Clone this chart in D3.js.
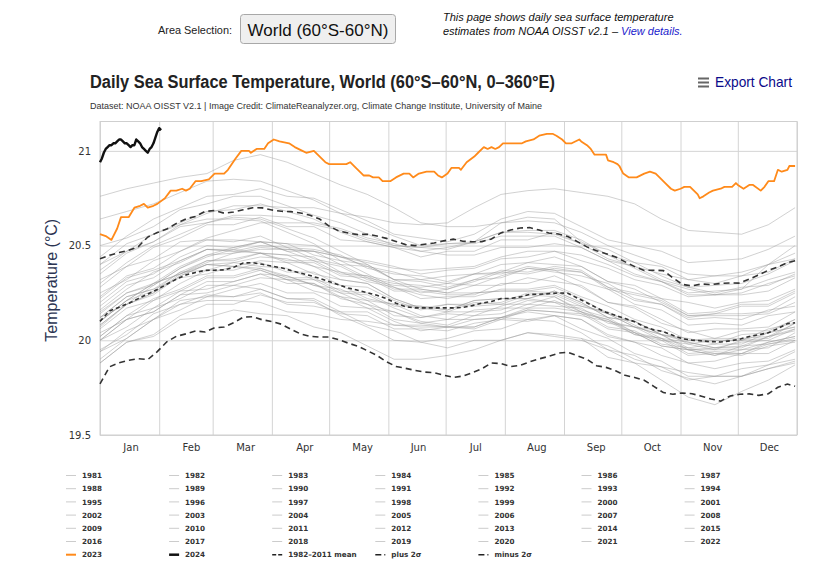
<!DOCTYPE html>
<html>
<head>
<meta charset="utf-8">
<script src="https://cdn.jsdelivr.net/npm/d3@7"></script>
<style>
  body { margin: 0; background: #fff; }
  svg text { font-family: "DejaVu Sans", sans-serif; }
</style>
</head>
<body>
<svg id="chart" width="825" height="567"></svg>
<script>
// ---- data ----

// day-of-year sample points used for the grey year lines (every 14 days)
const sampleDays = [0,14,28,42,56,70,84,98,112,126,140,154,168,182,196,210,224,238,252,266,280,294,308,322,336,350,364];

// grey year lines, one value per sample day (1981 record starts in September)
const y1981 = [null,null,null,null,null,null,null,null,null,null,null,null,null,null,null,null,null,null,20.01,19.91,19.88,19.79,19.70,19.66,19.73,19.79,19.87];
const y1982 = [19.90,20.01,20.11,20.19,20.21,20.21,20.20,20.15,20.14,20.11,20.10,20.08,20.07,20.07,20.07,20.12,20.16,20.15,20.13,20.10,20.07,20.03,20.00,20.01,20.01,20.02,20.09];
const y1983 = [20.15,20.25,20.30,20.35,20.40,20.39,20.38,20.34,20.29,20.25,20.19,20.15,20.09,20.11,20.11,20.12,20.15,20.13,20.11,20.03,19.99,19.92,19.88,19.85,19.88,19.89,19.95];
const y1984 = [19.95,20.03,20.14,20.19,20.24,20.23,20.25,20.19,20.18,20.15,20.08,20.05,19.99,20.01,20.05,20.06,20.11,20.10,20.04,19.95,19.92,19.84,19.80,19.77,19.81,19.85,19.89];
const y1985 = [19.88,19.99,20.02,20.11,20.12,20.16,20.14,20.13,20.07,20.04,19.97,19.90,19.90,19.92,19.95,20.00,20.04,20.03,20.01,19.97,19.90,19.86,19.83,19.81,19.85,19.87,19.94];
const y1986 = [19.94,20.05,20.11,20.21,20.23,20.23,20.27,20.22,20.22,20.15,20.15,20.08,20.08,20.07,20.11,20.12,20.17,20.17,20.15,20.10,20.03,20.01,19.95,19.96,19.97,20.02,20.06];
const y1987 = [20.10,20.21,20.26,20.36,20.42,20.43,20.46,20.42,20.42,20.35,20.34,20.27,20.27,20.25,20.29,20.29,20.33,20.31,20.29,20.20,20.17,20.09,20.05,20.01,20.05,20.05,20.11];
const y1988 = [20.12,20.23,20.27,20.33,20.35,20.39,20.37,20.32,20.30,20.22,20.19,20.11,20.09,20.07,20.07,20.12,20.11,20.13,20.06,20.01,19.93,19.89,19.81,19.81,19.81,19.85,19.88];
const y1989 = [19.88,19.99,20.03,20.13,20.19,20.19,20.24,20.20,20.20,20.14,20.13,20.06,20.06,20.05,20.09,20.11,20.16,20.15,20.14,20.06,20.04,19.97,19.95,19.92,19.95,19.96,20.04];
const y1990 = [20.06,20.17,20.21,20.30,20.37,20.37,20.41,20.36,20.36,20.29,20.28,20.21,20.16,20.19,20.19,20.20,20.25,20.24,20.18,20.15,20.08,20.01,19.99,19.96,19.96,20.02,20.05];
const y1991 = [20.07,20.19,20.24,20.34,20.40,20.39,20.42,20.41,20.35,20.32,20.30,20.22,20.17,20.15,20.20,20.19,20.19,20.23,20.15,20.11,20.03,20.00,19.92,19.93,19.92,19.97,19.99];
const y1992 = [20.00,20.11,20.15,20.24,20.25,20.29,20.27,20.22,20.21,20.13,20.07,20.00,19.99,19.96,20.00,20.00,20.04,20.02,20.00,19.95,19.88,19.86,19.79,19.81,19.81,19.87,19.90];
const y1993 = [19.94,20.01,20.11,20.16,20.23,20.27,20.30,20.25,20.25,20.18,20.17,20.10,20.05,20.07,20.06,20.11,20.10,20.13,20.11,20.02,19.99,19.96,19.88,19.89,19.93,19.93,20.00];
const y1994 = [20.00,20.07,20.17,20.22,20.29,20.29,20.33,20.32,20.26,20.23,20.21,20.13,20.12,20.14,20.13,20.18,20.22,20.20,20.18,20.14,20.07,20.05,19.98,20.00,20.00,20.06,20.09];
const y1995 = [20.12,20.23,20.27,20.36,20.37,20.41,20.39,20.38,20.32,20.29,20.22,20.19,20.13,20.11,20.16,20.17,20.17,20.21,20.15,20.07,20.05,19.98,19.96,19.93,19.93,19.99,20.02];
const y1996 = [20.02,20.13,20.17,20.26,20.27,20.31,20.35,20.30,20.30,20.23,20.17,20.15,20.10,20.08,20.13,20.14,20.19,20.18,20.17,20.09,20.07,20.00,19.98,19.95,20.00,20.01,20.09];
const y1997 = [20.08,20.19,20.25,20.35,20.41,20.46,20.48,20.48,20.47,20.44,20.41,20.38,20.37,20.38,20.39,20.44,20.47,20.47,20.45,20.40,20.34,20.31,20.25,20.26,20.27,20.32,20.36];
const y1998 = [20.37,20.47,20.52,20.60,20.62,20.65,20.64,20.59,20.54,20.47,20.40,20.32,20.27,20.25,20.25,20.26,20.26,20.25,20.19,20.14,20.07,20.03,19.95,19.95,19.95,19.99,20.02];
const y1999 = [20.04,20.11,20.21,20.26,20.33,20.33,20.37,20.32,20.32,20.25,20.24,20.17,20.12,20.15,20.15,20.16,20.21,20.20,20.14,20.11,20.04,19.97,19.95,19.92,19.97,19.98,20.01];
const y2000 = [20.02,20.13,20.22,20.27,20.34,20.34,20.38,20.33,20.33,20.26,20.25,20.18,20.18,20.16,20.21,20.22,20.22,20.26,20.20,20.12,20.10,20.03,19.96,19.98,19.98,20.04,20.07];
const y2001 = [20.10,20.21,20.30,20.35,20.42,20.42,20.46,20.41,20.41,20.34,20.33,20.26,20.26,20.24,20.24,20.30,20.30,20.34,20.28,20.20,20.18,20.11,20.04,20.06,20.06,20.07,20.15];
const y2002 = [20.16,20.27,20.36,20.41,20.48,20.48,20.52,20.47,20.47,20.40,20.39,20.32,20.32,20.30,20.35,20.36,20.41,20.40,20.39,20.31,20.29,20.22,20.20,20.17,20.20,20.21,20.27];
const y2003 = [20.28,20.39,20.43,20.52,20.53,20.53,20.52,20.47,20.42,20.39,20.32,20.29,20.28,20.30,20.29,20.34,20.38,20.36,20.34,20.30,20.22,20.19,20.11,20.12,20.11,20.16,20.18];
const y2004 = [20.18,20.29,20.33,20.42,20.48,20.47,20.50,20.49,20.43,20.40,20.33,20.30,20.29,20.27,20.32,20.33,20.38,20.37,20.36,20.28,20.21,20.19,20.12,20.14,20.14,20.15,20.23];
const y2005 = [20.23,20.34,20.38,20.47,20.53,20.52,20.55,20.49,20.48,20.45,20.38,20.35,20.34,20.31,20.35,20.35,20.39,20.37,20.31,20.27,20.19,20.16,20.08,20.09,20.08,20.13,20.15];
const y2006 = [20.14,20.25,20.29,20.38,20.44,20.48,20.46,20.45,20.44,20.36,20.34,20.31,20.25,20.27,20.31,20.36,20.35,20.38,20.36,20.27,20.24,20.21,20.13,20.14,20.18,20.18,20.25];
const y2007 = [20.22,20.33,20.37,20.42,20.48,20.47,20.46,20.45,20.39,20.32,20.30,20.22,20.17,20.19,20.18,20.19,20.24,20.23,20.16,20.12,20.04,20.01,19.93,19.94,19.93,19.98,20.00];
const y2008 = [20.00,20.11,20.15,20.24,20.31,20.31,20.35,20.34,20.29,20.27,20.21,20.19,20.18,20.16,20.21,20.22,20.22,20.26,20.20,20.12,20.10,20.03,20.01,19.98,20.03,20.04,20.11];
const y2009 = [20.12,20.19,20.29,20.38,20.45,20.49,20.52,20.51,20.50,20.44,20.42,20.39,20.35,20.37,20.38,20.43,20.44,20.47,20.42,20.38,20.32,20.29,20.23,20.24,20.25,20.30,20.34];
const y2010 = [20.35,20.46,20.52,20.61,20.64,20.64,20.63,20.57,20.51,20.42,20.35,20.28,20.22,20.23,20.23,20.27,20.27,20.29,20.23,20.18,20.11,20.07,20.00,20.00,20.00,20.04,20.07];
const y2011 = [20.08,20.19,20.25,20.34,20.40,20.41,20.44,20.43,20.39,20.36,20.31,20.28,20.24,20.22,20.25,20.26,20.26,20.28,20.22,20.14,20.10,20.03,19.99,19.96,19.99,20.00,20.06];
const y2012 = [20.10,20.21,20.30,20.39,20.45,20.46,20.49,20.48,20.47,20.44,20.39,20.36,20.32,20.34,20.35,20.40,20.41,20.44,20.39,20.31,20.27,20.20,20.13,20.13,20.13,20.14,20.20];
const y2013 = [20.20,20.31,20.35,20.44,20.50,20.49,20.52,20.51,20.45,20.42,20.40,20.32,20.31,20.28,20.32,20.37,20.36,20.39,20.37,20.28,20.25,20.22,20.14,20.15,20.19,20.19,20.26];
const y2014 = [20.25,20.32,20.42,20.47,20.54,20.58,20.62,20.62,20.62,20.59,20.54,20.51,20.47,20.45,20.45,20.49,20.49,20.51,20.49,20.42,20.39,20.35,20.32,20.30,20.34,20.36,20.43];
const y2015 = [20.40,20.51,20.56,20.61,20.67,20.71,20.71,20.70,20.70,20.67,20.65,20.62,20.61,20.62,20.70,20.77,20.79,20.80,20.78,20.76,20.72,20.64,20.58,20.57,20.56,20.61,20.70];
const y2016 = [20.76,20.80,20.83,20.86,20.88,20.95,20.98,20.94,20.88,20.82,20.77,20.70,20.62,20.60,20.60,20.62,20.63,20.62,20.57,20.50,20.45,20.40,20.35,20.34,20.36,20.40,20.46];
const y2017 = [20.50,20.54,20.60,20.69,20.72,20.76,20.76,20.71,20.66,20.62,20.56,20.50,20.49,20.51,20.52,20.57,20.57,20.56,20.51,20.43,20.39,20.32,20.28,20.25,20.28,20.29,20.35];
const y2018 = [20.32,20.39,20.49,20.54,20.61,20.61,20.65,20.60,20.60,20.53,20.52,20.49,20.44,20.47,20.47,20.53,20.53,20.57,20.51,20.48,20.41,20.39,20.32,20.34,20.34,20.40,20.43];
const y2019 = [20.44,20.55,20.64,20.70,20.76,20.77,20.80,20.76,20.75,20.69,20.63,20.56,20.54,20.52,20.56,20.64,20.68,20.67,20.60,20.53,20.50,20.47,20.41,20.42,20.43,20.48,20.55];
const y2020 = [20.64,20.68,20.72,20.78,20.84,20.85,20.84,20.79,20.74,20.67,20.61,20.55,20.50,20.51,20.51,20.55,20.55,20.55,20.49,20.42,20.35,20.31,20.24,20.24,20.24,20.26,20.33];
const y2021 = [20.30,20.41,20.50,20.56,20.62,20.66,20.66,20.65,20.61,20.58,20.53,20.50,20.49,20.48,20.52,20.57,20.58,20.58,20.53,20.45,20.41,20.34,20.28,20.29,20.30,20.35,20.42];
const y2022 = [20.40,20.47,20.56,20.62,20.68,20.69,20.72,20.68,20.64,20.57,20.52,20.49,20.47,20.49,20.52,20.62,20.65,20.64,20.52,20.45,20.38,20.31,20.27,20.24,20.27,20.40,20.50];

const greyYears = d3.range(1981, 2023);
const greyValues = [y1981,y1982,y1983,y1984,y1985,y1986,y1987,y1988,y1989,y1990,y1991,y1992,y1993,y1994,
  y1995,y1996,y1997,y1998,y1999,y2000,y2001,y2002,y2003,y2004,y2005,y2006,y2007,y2008,y2009,y2010,y2011,
  y2012,y2013,y2014,y2015,y2016,y2017,y2018,y2019,y2020,y2021,y2022];

// 2023 (orange)
const days2023 = [0,3,6,9,11,15,18,21,23,25,28,30,34,37,40,43,45,47,50,53,57,60,65,67,71,74,78,79,82,86,88,91,94,99,102,106,108,112,114,118,
  120,129,131,134,136,138,141,143,146,148,152,155,159,162,164,167,171,175,177,179,182,184,188,189,192,196,198,201,203,205,207,209,211,215,217,221,223,227,230,234,237,239,242,
  244,247,251,252,255,257,259,265,266,269,271,272,274,277,281,285,288,291,293,296,299,301,304,306,309,311,313,314,316,319,321,325,327,331,333,334,337,340,342,346,348,350,353,355,357,360,361,364];
const sst2023 = [20.56,20.55,20.53,20.59,20.65,20.65,20.70,20.71,20.72,20.70,20.71,20.72,20.75,20.79,20.79,20.80,20.79,20.80,20.84,20.84,20.85,20.88,20.88,20.90,20.96,21.00,21.00,20.99,21.01,21.01,21.04,21.06,21.05,21.04,21.02,21.00,20.99,21.00,20.98,20.94,
  20.93,20.93,20.94,20.91,20.89,20.87,20.87,20.86,20.86,20.84,20.84,20.86,20.88,20.88,20.86,20.88,20.89,20.89,20.87,20.86,20.88,20.91,20.91,20.90,20.94,20.97,20.99,21.02,21.01,21.02,21.01,21.02,21.04,21.04,21.04,21.04,21.05,21.06,21.08,21.09,21.09,21.08,21.06,
  21.04,21.04,21.06,21.05,21.03,21.01,20.98,20.98,20.95,20.94,20.93,20.92,20.88,20.86,20.86,20.88,20.89,20.88,20.86,20.83,20.80,20.79,20.80,20.81,20.81,20.79,20.77,20.75,20.76,20.78,20.79,20.80,20.81,20.81,20.83,20.82,20.80,20.82,20.82,20.79,20.81,20.84,20.84,20.90,20.89,20.90,20.92,20.92];

// 2024 (black), daily from 1 Jan
const sst2024 = [20.94,20.96,20.99,21.01,21.02,21.03,21.03,21.04,21.04,21.05,21.06,21.06,21.05,21.04,21.04,21.03,21.02,21.03,21.03,21.06,21.05,21.04,21.02,21.01,21.00,20.99,21.01,21.02,21.04,21.07,21.10,21.12,21.11];

// climatology lines, every 5 days (last point 31 Dec)
const climDays = d3.range(0, 361, 5).concat([364]);
const meanLine = [20.10,20.155,20.175,20.195,20.22,20.244,20.268,20.296,20.323,20.345,20.358,20.369,20.37,20.372,20.385,20.408,20.41,20.401,20.391,20.383,20.368,20.355,20.342,20.327,20.31,20.293,20.276,20.264,20.251,20.238,20.22,20.196,20.177,20.171,20.171,20.171,20.171,20.171,20.174,20.183,20.196,20.205,20.22,20.221,20.229,20.242,20.243,20.246,20.25,20.248,20.223,20.198,20.172,20.148,20.131,20.115,20.098,20.072,20.055,20.046,20.026,20.008,20.001,19.997,19.993,19.991,19.997,20.006,20.02,20.029,20.04,20.062,20.088,20.093];
const plus2sd = [20.43,20.449,20.463,20.475,20.494,20.545,20.569,20.587,20.617,20.641,20.654,20.68,20.685,20.671,20.677,20.689,20.70,20.699,20.688,20.681,20.679,20.672,20.66,20.64,20.603,20.577,20.566,20.558,20.56,20.551,20.538,20.522,20.505,20.50,20.507,20.514,20.525,20.534,20.523,20.52,20.521,20.535,20.567,20.582,20.593,20.595,20.582,20.566,20.561,20.548,20.521,20.493,20.473,20.457,20.44,20.414,20.389,20.369,20.37,20.368,20.33,20.295,20.287,20.297,20.294,20.30,20.303,20.302,20.323,20.345,20.37,20.387,20.41,20.42];
const minus2sd = [19.77,19.86,19.881,19.894,19.903,19.898,19.94,19.992,20.021,20.034,20.049,20.044,20.066,20.07,20.093,20.122,20.124,20.108,20.099,20.085,20.058,20.034,20.021,20.017,20.017,20.003,19.985,19.969,19.945,19.92,19.887,19.862,19.852,19.841,19.832,19.829,19.816,19.804,19.811,19.829,19.85,19.88,19.877,19.861,19.868,19.886,19.902,19.915,19.932,19.937,19.918,19.90,19.866,19.857,19.839,19.815,19.804,19.789,19.757,19.724,19.715,19.722,19.718,19.705,19.69,19.679,19.706,19.715,19.717,19.709,19.718,19.752,19.769,19.757];

// axis ticks
const monthStarts = [0,31,59,90,120,151,181,212,243,273,304,334,365];
const monthNames = ["Jan","Feb","Mar","Apr","May","Jun","Jul","Aug","Sep","Oct","Nov","Dec"];
const monthLabelDays = [16,47.6,76,107,137.3,166.5,196.5,228.5,259.6,289,320.6,350.3];
const yTicks = [19.5, 20, 20.5, 21];

// ---- drawing ----
const svg = d3.select("#chart");
const plotLeft = 100, plotRight = 797, plotTop = 121.5, plotBottom = 435;

const x = d3.scaleLinear().domain([0, 365]).range([plotLeft, plotRight]);
const y = d3.scaleLinear().domain([19.5, 21.155]).range([plotBottom, plotTop]);

drawHeader();
drawAxes();
drawSeries();
drawLegend();

// header: area selector, note, title, export link, credits
function drawHeader() {
    svg.append("text").attr("x", 158).attr("y", 34)
        .style("font-family", "'Liberation Sans', Arial, sans-serif").style("font-size", "11.5px")
        .attr("fill", "#222").attr("textLength", 74).attr("lengthAdjust", "spacingAndGlyphs")
        .text("Area Selection:");

    svg.append("rect").attr("x", 240.5).attr("y", 14.5).attr("width", 155).attr("height", 29).attr("rx", 3)
        .attr("fill", "#efefef").attr("stroke", "#a8a8a8");
    svg.append("text").attr("x", 318).attr("y", 35.5).attr("text-anchor", "middle")
        .style("font-family", "'Liberation Sans', Arial, sans-serif").style("font-size", "17px")
        .attr("fill", "#111").text("World (60°S-60°N)");

    // note, two lines of italic text
    const noteFont = "'Liberation Sans', Arial, sans-serif";
    svg.append("text").attr("x", 443).attr("y", 21)
        .style("font-family", noteFont).style("font-size", "11px").style("font-style", "italic")
        .attr("fill", "#111").text("This page shows daily sea surface temperature");
    const line2 = svg.append("text").attr("x", 443).attr("y", 34.5)
        .style("font-family", noteFont).style("font-size", "11px").style("font-style", "italic")
        .attr("fill", "#111");
    line2.append("tspan").text("estimates from NOAA OISST v2.1 – ");
    line2.append("tspan").attr("fill", "#1a1acc").text("View details.");

    svg.append("text").attr("x", 90).attr("y", 88)
        .style("font-family", "'Liberation Sans Narrow', 'Liberation Sans', Arial, sans-serif")
        .style("font-size", "18px").style("font-weight", "bold").attr("fill", "#222")
        .attr("textLength", 465).attr("lengthAdjust", "spacingAndGlyphs")
        .text("Daily Sea Surface Temperature, World (60°S–60°N, 0–360°E)");

    // hamburger icon + export label
    [77.5, 81.5, 85.5].forEach(function(yy) {
        svg.append("rect").attr("x", 698).attr("y", yy).attr("width", 11).attr("height", 2).attr("fill", "#666");
    });
    svg.append("text").attr("x", 715).attr("y", 87)
        .style("font-family", "'Liberation Sans Narrow', 'Liberation Sans', Arial, sans-serif")
        .style("font-size", "14.5px").attr("fill", "#0a0a8a")
        .attr("textLength", 77).attr("lengthAdjust", "spacingAndGlyphs")
        .text("Export Chart");

    svg.append("text").attr("x", 90).attr("y", 108.5)
        .style("font-family", "'Liberation Sans Narrow', 'Liberation Sans', Arial, sans-serif")
        .style("font-size", "9px").attr("fill", "#333")
        .attr("textLength", 452).attr("lengthAdjust", "spacingAndGlyphs")
        .text("Dataset: NOAA OISST V2.1 | Image Credit: ClimateReanalyzer.org, Climate Change Institute, University of Maine");
}

function drawAxes() {
    // vertical grid at month boundaries
    const xGrid = svg.append("g").attr("transform", `translate(0,${plotBottom})`)
        .call(d3.axisBottom(x).tickValues(monthStarts).tickSize(-(plotBottom - plotTop)).tickFormat(""));
    xGrid.select(".domain").remove();
    xGrid.selectAll("line").attr("stroke", "#d4d4d4");

    // horizontal grid + y labels
    const yAxis = svg.append("g").attr("transform", `translate(${plotLeft},0)`)
        .call(d3.axisLeft(y).tickValues(yTicks).tickSize(-(plotRight - plotLeft)).tickPadding(9)
            .tickFormat(d => String(d)));
    yAxis.select(".domain").remove();
    yAxis.selectAll("line").attr("stroke", "#d4d4d4");
    yAxis.selectAll("text").attr("fill", "#333").style("font-family", "'DejaVu Sans', sans-serif")
        .style("font-size", "10px");

    // plot frame
    svg.append("rect").attr("x", plotLeft).attr("y", plotTop)
        .attr("width", plotRight - plotLeft).attr("height", plotBottom - plotTop)
        .attr("fill", "none").attr("stroke", "#cfcfcf");

    // month names
    const xAxis = svg.append("g").attr("transform", `translate(0,${plotBottom})`)
        .call(d3.axisBottom(x).tickValues(monthLabelDays).tickSize(0).tickPadding(9)
            .tickFormat((d, i) => monthNames[i]));
    xAxis.select(".domain").remove();
    xAxis.selectAll("text").attr("fill", "#333").style("font-family", "'DejaVu Sans', sans-serif")
        .style("font-size", "10px");

    svg.append("text")
        .attr("transform", `translate(57,${(plotTop + plotBottom) / 2 + 2}) rotate(-90)`)
        .attr("text-anchor", "middle")
        .style("font-family", "'Liberation Sans', Arial, sans-serif").style("font-size", "16px")
        .attr("fill", "#2b3452").text("Temperature (°C)");
}

function drawSeries() {
    const line = d3.line()
        .defined(d => d[1] != null)
        .x(d => x(d[0]))
        .y(d => y(d[1]));

    const plot = svg.append("g");

    // grey years
    greyValues.forEach(function(vals) {
        plot.append("path")
            .datum(sampleDays.map((d, i) => [d, vals[i]]))
            .attr("d", line)
            .attr("fill", "none").attr("stroke", "#999").attr("stroke-opacity", 0.45)
            .attr("stroke-width", 1);
    });

    // climatology
    const clim = [
        { vals: meanLine, dash: "4,3" },
        { vals: plus2sd, dash: "6,4" },
        { vals: minus2sd, dash: "6,4" }
    ];
    clim.forEach(function(c) {
        plot.append("path")
            .datum(climDays.map((d, i) => [d, c.vals[i]]))
            .attr("d", line)
            .attr("fill", "none").attr("stroke", "#333").attr("stroke-width", 1.6)
            .attr("stroke-dasharray", c.dash);
    });

    plot.append("path")
        .datum(days2023.map((d, i) => [d, sst2023[i]]))
        .attr("d", line)
        .attr("fill", "none").attr("stroke", "#ff8a1a").attr("stroke-width", 1.8)
        .attr("stroke-linejoin", "round");

    plot.append("path")
        .datum(sst2024.map((v, i) => [i, v]))
        .attr("d", line)
        .attr("fill", "none").attr("stroke", "#111").attr("stroke-width", 2.4)
        .attr("stroke-linejoin", "round");
}

function drawLegend() {
    let items = greyYears.map(yr => ({ label: String(yr), color: "#ccc", width: 1, dash: null }));
    items.push({ label: "2023", color: "#ff8a1a", width: 2, dash: null });
    items.push({ label: "2024", color: "#111", width: 2.5, dash: null });
    items.push({ label: "1982–2011 mean", color: "#222", width: 1.5, dash: "4,2" });
    items.push({ label: "plus 2σ", color: "#222", width: 1.5, dash: "6,3,1.5,3" });
    items.push({ label: "minus 2σ", color: "#222", width: 1.5, dash: "6,3,1.5,3" });

    const legend = svg.append("g");
    items.forEach(function(item, i) {
        const col = i % 7, row = Math.floor(i / 7);
        const lx = 66 + col * 103.1;
        const ly = 475 + row * 13.2;
        const g = legend.append("g").attr("transform", `translate(${lx},${ly})`);
        g.append("line").attr("x1", 0).attr("x2", 10).attr("y1", 0.5).attr("y2", 0.5)
            .attr("stroke", item.color).attr("stroke-width", item.width)
            .attr("stroke-dasharray", item.dash);
        g.append("text").attr("x", 16).attr("y", 3.1)
            .style("font-family", "'DejaVu Sans', sans-serif").style("font-size", "7.2px")
            .style("font-weight", "bold").attr("fill", "#333").text(item.label);
    });
}
</script>
</body>
</html>
